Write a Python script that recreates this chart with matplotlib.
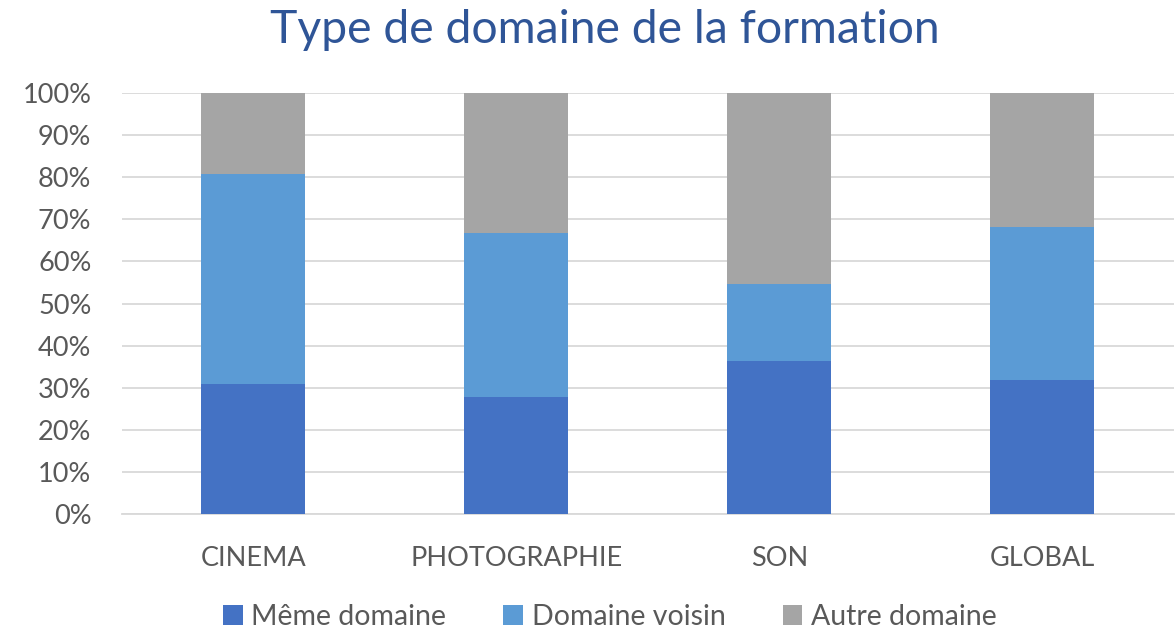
import matplotlib
matplotlib.use("Agg")
import matplotlib.pyplot as plt
from matplotlib.ticker import PercentFormatter

categories = ["CINEMA", "PHOTOGRAPHIE", "SON", "GLOBAL"]
meme_domaine = [30.8, 27.8, 36.4, 31.8]
domaine_voisin = [50.0, 38.9, 18.2, 36.3]
autre_domaine = [19.2, 33.3, 45.4, 31.9]
series_names = ["Même domaine", "Domaine voisin", "Autre domaine"]
colors = ["#4472C4", "#5B9BD5", "#A5A5A5"]
title = "Type de domaine de la formation"

plt.rcParams["font.family"] = ["Lato", "DejaVu Sans"]

fig = plt.figure(figsize=(11.75, 6.31), dpi=100)
ax = fig.add_axes([0.1038, 0.1854, 0.895, 0.6672])

x = range(len(categories))
bottom = [0.0] * len(categories)
handles = []
for vals, name, col in zip([meme_domaine, domaine_voisin, autre_domaine], series_names, colors):
    b = ax.bar(x, vals, width=0.395, bottom=bottom, color=col, label=name, zorder=3)
    handles.append(b)
    bottom = [bo + v for bo, v in zip(bottom, vals)]

ax.set_xlim(-0.5, len(categories) - 0.5)
ax.set_ylim(0, 100)
ax.set_yticks(range(0, 101, 10))
ax.yaxis.set_major_formatter(PercentFormatter(decimals=0))
ax.grid(axis="y", color="#D9D9D9", linewidth=1.3, zorder=0)
for s in ["top", "right", "left"]:
    ax.spines[s].set_visible(False)
ax.spines["bottom"].set_color("#D9D9D9")
ax.spines["bottom"].set_linewidth(1.3)
ax.set_xticks(list(x))
ax.set_xticklabels(categories)
ax.tick_params(axis="both", length=0, labelsize=19.5, colors="#595959")
ax.tick_params(axis="x", pad=23)
ax.tick_params(axis="y", pad=22)

fig.text(0.515, 0.952, title, ha="center", va="center", fontsize=33.3, color="#2F5597")

fig.legend(handles=handles, labels=series_names, loc="center", bbox_to_anchor=(0.519, 0.022),
           ncol=3, frameon=False, fontsize=20.5, labelcolor="#595959",
           handlelength=0.7, handleheight=0.7, handletextpad=0.3, columnspacing=2.0)

fig.savefig("out.png", dpi=100)
